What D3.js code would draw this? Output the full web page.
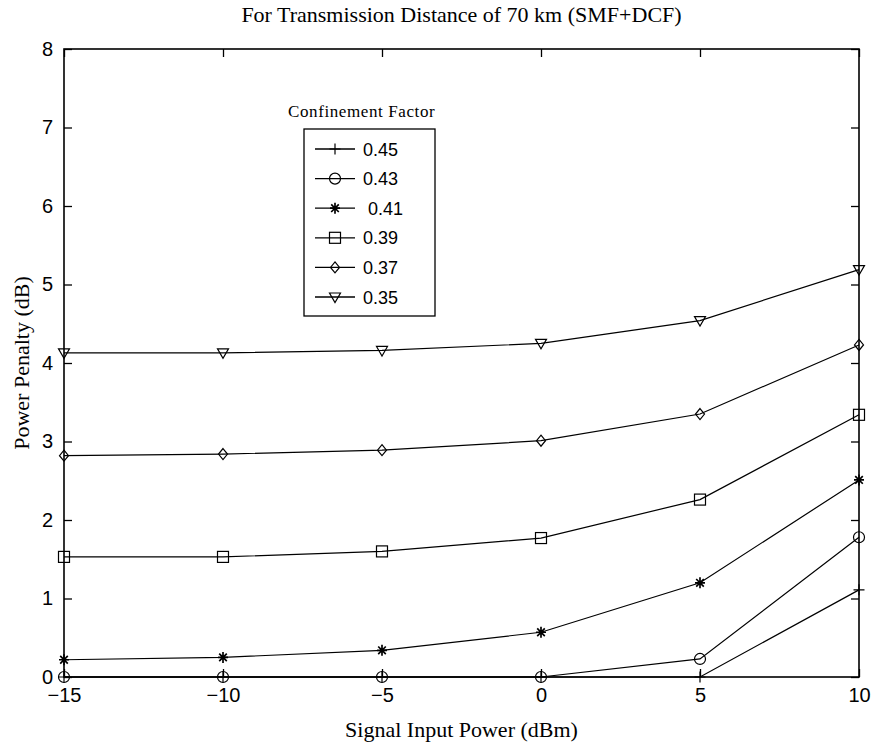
<!DOCTYPE html>
<html>
<head>
<meta charset="utf-8">
<script src="https://cdn.jsdelivr.net/npm/d3@7"></script>
<style>
  body { margin: 0; background: white; }
  svg text { fill: black; white-space: pre; }
</style>
</head>
<body>
<div id="chart"></div>
<script>
var
  // signal input power, dBm
  inputPower = [-15, -10, -5, 0, 5, 10],

  // confinement factors, in legend order
  factors = ["0.45", "0.43", " 0.41", "0.39", "0.37", "0.35"],
  markers = ["plus", "circle", "star", "square", "diamond", "triangle"],

  // power penalty (dB), one array per confinement factor
  penalty045 = [0, 0, 0, 0, 0, 1.11],
  penalty043 = [0, 0, 0, 0, 0.23, 1.78],
  penalty041 = [0.22, 0.25, 0.34, 0.57, 1.20, 2.51],
  penalty039 = [1.53, 1.53, 1.60, 1.77, 2.26, 3.34],
  penalty037 = [2.82, 2.84, 2.89, 3.01, 3.35, 4.23],
  penalty035 = [4.13, 4.13, 4.16, 4.25, 4.54, 5.19],

  xTicks = [-15, -10, -5, 0, 5, 10],
  yTicks = [0, 1, 2, 3, 4, 5, 6, 7, 8],

  TITLE = "For Transmission Distance of 70 km (SMF+DCF)",
  X_LABEL = "Signal Input Power (dBm)",
  Y_LABEL = "Power Penalty (dB)",
  LEGEND_TITLE = "Confinement Factor";

var series = [penalty045, penalty043, penalty041, penalty039, penalty037, penalty035];

var
  WIDTH = 874,
  HEIGHT = 751,
  LEFT = 64,
  RIGHT = 859,
  TOP = 49,
  BOTTOM = 677,
  TICK = 8,
  SERIF = "'Liberation Serif', 'DejaVu Serif', serif",
  SANS = "'Liberation Sans', Arial, sans-serif",
  LABEL_SIZE = 22,
  TICK_SIZE = 20;

var svg = d3.select("#chart").append("svg")
  .attr("width", WIDTH)
  .attr("height", HEIGHT);

svg.append("rect").attr("width", WIDTH).attr("height", HEIGHT).attr("fill", "white");

var x = d3.scaleLinear().domain([-15, 10]).range([LEFT, RIGHT]);
var y = d3.scaleLinear().domain([0, 8]).range([BOTTOM, TOP]);

// axes with inward ticks on all four sides
function styleAxis(g) {
  g.select(".domain").remove();
  g.selectAll("line").attr("stroke", "black").attr("stroke-width", 1.3);
  g.selectAll("text").attr("font-family", SANS).attr("font-size", TICK_SIZE);
}

svg.append("g")
  .attr("transform", "translate(0," + BOTTOM + ")")
  .call(d3.axisBottom(x).tickValues(xTicks).tickSizeInner(-TICK).tickPadding(TICK + 3).tickFormat(d3.format("d")))
  .call(styleAxis);

svg.append("g")
  .attr("transform", "translate(0," + TOP + ")")
  .call(d3.axisTop(x).tickValues(xTicks).tickSizeInner(-TICK).tickFormat(""))
  .call(styleAxis);

svg.append("g")
  .attr("transform", "translate(" + LEFT + ",0)")
  .call(d3.axisLeft(y).tickValues(yTicks).tickSizeInner(-TICK).tickPadding(TICK + 3).tickFormat(d3.format("d")))
  .call(styleAxis);

svg.append("g")
  .attr("transform", "translate(" + RIGHT + ",0)")
  .call(d3.axisRight(y).tickValues(yTicks).tickSizeInner(-TICK).tickFormat(""))
  .call(styleAxis);

svg.append("rect")
  .attr("x", LEFT).attr("y", TOP)
  .attr("width", RIGHT - LEFT).attr("height", BOTTOM - TOP)
  .attr("fill", "none").attr("stroke", "black").attr("stroke-width", 1.6);

// titles
svg.append("text")
  .attr("x", (LEFT + RIGHT) / 2).attr("y", 22)
  .attr("text-anchor", "middle")
  .attr("font-family", SERIF).attr("font-size", LABEL_SIZE)
  .text(TITLE);

svg.append("text")
  .attr("x", (LEFT + RIGHT) / 2).attr("y", 737)
  .attr("text-anchor", "middle")
  .attr("font-family", SERIF).attr("font-size", LABEL_SIZE)
  .text(X_LABEL);

svg.append("text")
  .attr("transform", "translate(29," + ((TOP + BOTTOM) / 2) + ") rotate(-90)")
  .attr("text-anchor", "middle")
  .attr("font-family", SERIF).attr("font-size", LABEL_SIZE)
  .text(Y_LABEL);

// marker drawing
function drawMarker(g, type, cx, cy) {
  var m = g.append("g").attr("transform", "translate(" + cx + "," + cy + ")")
    .attr("fill", "none").attr("stroke", "black").attr("stroke-width", 1.2);
  if (type === "plus") {
    m.append("path").attr("d", "M-5.5,0H5.5M0,-5.5V5.5");
  } else if (type === "circle") {
    m.append("circle").attr("r", 5.5);
  } else if (type === "star") {
    m.append("path").attr("d", "M-5,0H5M0,-5.5V5.5M-3.8,-3.8L3.8,3.8M-3.8,3.8L3.8,-3.8").attr("stroke-width", 1.7);
  } else if (type === "square") {
    m.append("rect").attr("x", -5.5).attr("y", -5.5).attr("width", 11).attr("height", 11);
  } else if (type === "diamond") {
    m.append("path").attr("d", "M0,-5.5L4.5,0L0,5.5L-4.5,0Z");
  } else if (type === "triangle") {
    m.append("path").attr("d", "M-5.5,-4H5.5L0,5.5Z");
  }
}

var line = d3.line()
  .x(function(d, i){ return x(inputPower[i]); })
  .y(function(d){ return y(d); });

series.forEach(function(values, k) {
  var g = svg.append("g");
  g.append("path")
    .attr("d", line(values))
    .attr("fill", "none")
    .attr("stroke", "black")
    .attr("stroke-width", 1.2);
  values.forEach(function(v, i) {
    drawMarker(g, markers[k], x(inputPower[i]), y(v));
  });
});

// legend
var LEGEND_LEFT = 304, LEGEND_TOP = 129, LEGEND_WIDTH = 131, LEGEND_ROW = 29.6;

svg.append("text")
  .attr("x", 288).attr("y", 117)
  .attr("font-family", SERIF).attr("font-size", 17)
  .attr("letter-spacing", 0.6)
  .text(LEGEND_TITLE);

var legend = svg.append("g");
legend.append("rect")
  .attr("x", LEGEND_LEFT).attr("y", LEGEND_TOP)
  .attr("width", LEGEND_WIDTH).attr("height", 187)
  .attr("fill", "white").attr("stroke", "black").attr("stroke-width", 1.3);

factors.forEach(function(name, k) {
  var cy = LEGEND_TOP + 20 + k * LEGEND_ROW;
  legend.append("line")
    .attr("x1", LEGEND_LEFT + 11).attr("x2", LEGEND_LEFT + 51)
    .attr("y1", cy).attr("y2", cy)
    .attr("stroke", "black").attr("stroke-width", 1.3);
  drawMarker(legend, markers[k], LEGEND_LEFT + 31, cy);
  legend.append("text")
    .attr("x", LEGEND_LEFT + 59).attr("y", cy + 6.5)
    .attr("font-family", SANS).attr("font-size", 18)
    .text(name);
});
</script>
</body>
</html>
